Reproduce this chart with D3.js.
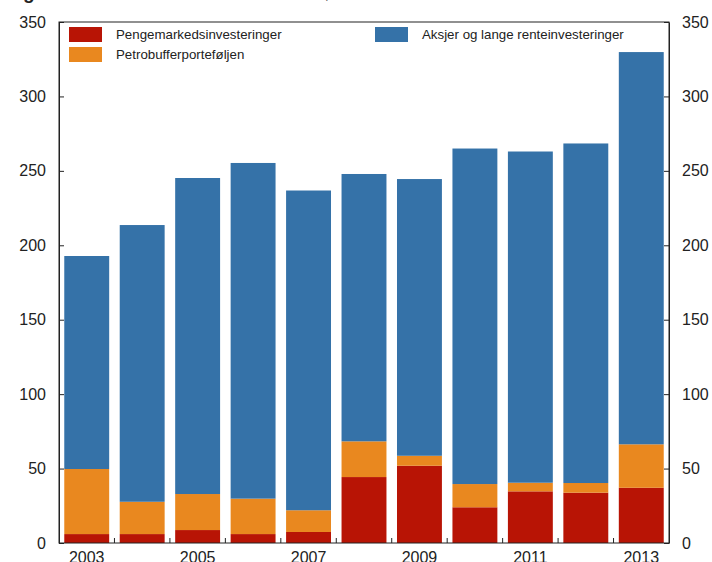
<!DOCTYPE html>
<html>
<head>
<meta charset="utf-8">
<script src="https://cdn.jsdelivr.net/npm/d3@7"></script>
<style>
  body { margin: 0; background: #fff; }
  svg { display: block; font-family: "Liberation Sans", Arial, sans-serif; }
</style>
</head>
<body>
<div id="chart"></div>
<script>
const years = ["2003","2004","2005","2006","2007","2008","2009","2010","2011","2012","2013"]
const yearLabels = ["2003","2005","2007","2009","2011","2013"]
// milliarder kroner
const penge  = [6, 6, 8.7, 6, 7.4, 44.3, 51.9, 24, 34.7, 33.8, 37.1]
const petro  = [43.7, 21.7, 24.2, 23.8, 14.6, 24, 6.7, 15.6, 5.8, 6.5, 29.2]
const aksjer = [143.1, 185.9, 212.3, 225.5, 214.8, 179.6, 185.9, 225.4, 222.5, 228.1, 263.5]
const yTicks = [0, 50, 100, 150, 200, 250, 300, 350]

const seriesNames = ["Pengemarkedsinvesteringer", "Petrobufferporteføljen", "Aksjer og lange renteinvesteringer"]
const colors = ["#b81405", "#e9881f", "#3572a8"]

const width = 712
const height = 562
const margin = {top: 22, right: 43, bottom: 19, left: 59}

const svg = d3.select("#chart")
    .append("svg")
    .attr("width", width)
    .attr("height", height)
    .attr("viewBox", [0, 0, width, height])

const table = years.map((y, i) => ({year: y, penge: penge[i], petro: petro[i], aksjer: aksjer[i]}))
const stacked = d3.stack().keys(["penge", "petro", "aksjer"])(table)

const x = d3.scaleBand()
    .domain(years)
    .range([margin.left, width - margin.right])
    .paddingInner(0.19)
    .paddingOuter(0.095)

const y = d3.scaleLinear()
    .domain([0, 350])
    .range([height - margin.bottom, margin.top])

// cut-off figure title at the very top
svg.append("text")
    .attr("x", 6)
    .attr("y", -1.5)
    .attr("font-size", 19)
    .attr("fill", "#222")
    .call(t => t.append("tspan").attr("font-weight", "bold").text("Figur 3.6 "))
    .call(t => t.append("tspan").attr("font-size", 17).attr("fill", "#555")
        .text("Valutareservene. Markedsverdi, milliarder kroner. 2003–2013"))

// bars
svg.append("g")
    .selectAll("g")
    .data(stacked)
    .join("g")
    .attr("fill", (d, i) => colors[i])
    .selectAll("rect")
    .data(d => d)
    .join("rect")
    .attr("x", d => x(d.data.year))
    .attr("width", x.bandwidth())
    .attr("y", d => y(d[1]))
    .attr("height", d => y(d[0]) - y(d[1]))

// frame
svg.append("rect")
    .attr("x", margin.left)
    .attr("y", margin.top)
    .attr("width", width - margin.left - margin.right)
    .attr("height", height - margin.top - margin.bottom)
    .attr("fill", "none")
    .attr("stroke", "#222")
    .attr("stroke-width", 1)

// y axes, ticks pointing inward
const axisStyle = g => {
    g.select(".domain").attr("stroke", "#222")
    g.selectAll(".tick line").attr("stroke", "#222")
    g.selectAll(".tick text").attr("fill", "#222").attr("font-size", 16)
        .attr("font-family", "'Liberation Sans', Arial, sans-serif")
}

const left = svg.append("g")
    .attr("transform", `translate(${margin.left},0)`)
    .call(d3.axisLeft(y).tickValues(yTicks).tickSizeInner(-5).tickSizeOuter(0))
    .call(axisStyle)
left.selectAll(".tick text").attr("x", -13)

const right = svg.append("g")
    .attr("transform", `translate(${width - margin.right},0)`)
    .call(d3.axisRight(y).tickValues(yTicks).tickSizeInner(-5).tickSizeOuter(0))
    .call(axisStyle)
right.selectAll(".tick text").attr("x", 13)

// x axis: ticks between bars, pointing up
const bottom = svg.append("g")
    .attr("transform", `translate(0,${height - margin.bottom})`)
bottom.selectAll("line")
    .data(years.slice(1))
    .join("line")
    .attr("x1", d => x(d) - x.step() * x.paddingInner() / 2)
    .attr("x2", d => x(d) - x.step() * x.paddingInner() / 2)
    .attr("y1", 0)
    .attr("y2", -5)
    .attr("stroke", "#222")
bottom.selectAll("text")
    .data(yearLabels)
    .join("text")
    .attr("x", d => x(d) + x.bandwidth() / 2)
    .attr("y", 20)
    .attr("text-anchor", "middle")
    .attr("font-size", 16)
    .attr("fill", "#222")
    .text(d => d)

// legend
const legendPos = [[69, 27], [69, 47], [375, 27]]
const legend = svg.append("g")
    .selectAll("g")
    .data(seriesNames)
    .join("g")
    .attr("transform", (d, i) => `translate(${legendPos[i][0]},${legendPos[i][1]})`)
legend.append("rect")
    .attr("width", 33)
    .attr("height", 15)
    .attr("fill", (d, i) => colors[i])
legend.append("text")
    .attr("x", 47)
    .attr("y", 12)
    .attr("font-size", 13.3)
    .attr("fill", "#222")
    .text(d => d)
</script>
</body>
</html>
